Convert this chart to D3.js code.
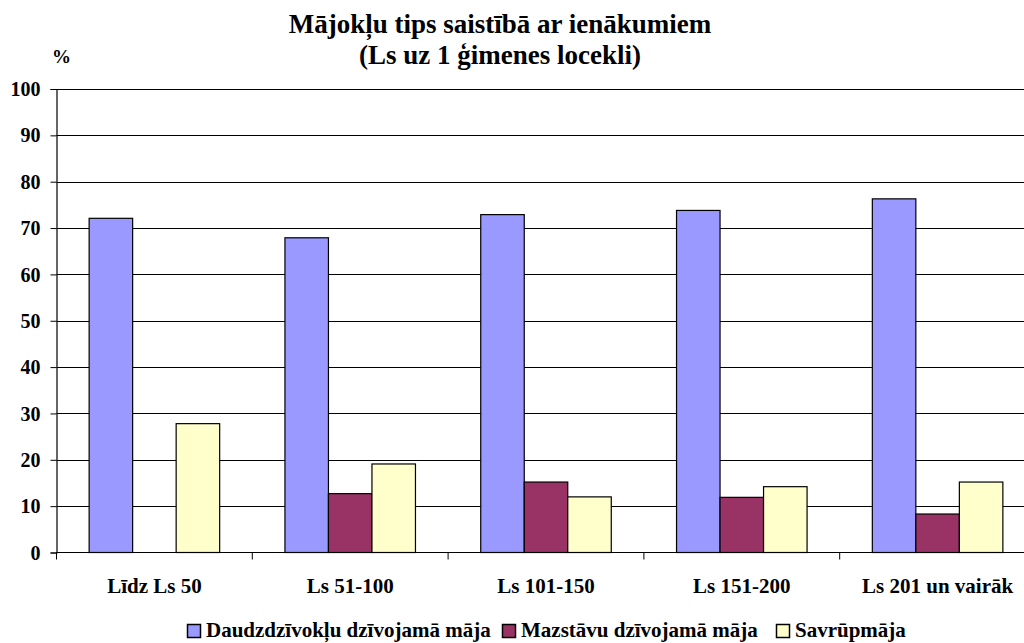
<!DOCTYPE html>
<html>
<head>
<meta charset="utf-8">
<script src="https://cdn.jsdelivr.net/npm/d3@7"></script>
<style>
html,body{margin:0;padding:0;background:#fff;overflow:hidden;}
svg{display:block;}
text{font-family:"Liberation Serif","Times New Roman",serif;font-weight:bold;fill:#000;}
</style>
</head>
<body>
<svg id="chart" width="1024" height="643"></svg>
<script>
const categories = ["Līdz Ls 50", "Ls 51-100", "Ls 101-150", "Ls 151-200", "Ls 201 un vairāk"];
const seriesNames = ["Daudzdzīvokļu dzīvojamā māja", "Mazstāvu dzīvojamā māja", "Savrūpmāja"];
const daudzdzivoklu = [72.1, 67.9, 72.9, 73.8, 76.3];
const mazstavu = [0, 12.7, 15.2, 11.9, 8.3];
const savrupmaja = [27.8, 19.1, 12.0, 14.2, 15.2];
const yTicks = [0, 10, 20, 30, 40, 50, 60, 70, 80, 90, 100];
const titleLines = ["Mājokļu tips saistībā ar ienākumiem", "(Ls uz 1 ģimenes locekli)"];
const colors = ["#9999FF", "#993366", "#FFFFCC"];

const series = [daudzdzivoklu, mazstavu, savrupmaja];
const svg = d3.select("#chart");

const pLeft = 56.5, pRight = 1035.5, pTop = 89, pBottom = 552.5;

const y = d3.scaleLinear().domain([0, 100]).range([pBottom, pTop]);
const x0 = d3.scaleBand().domain(categories).range([pLeft, pRight]).padding(0);
const bw = x0.bandwidth();
const barW = bw / 4.5;
const x1 = d3.scaleBand().domain(d3.range(series.length)).range([barW * 0.75, bw - barW * 0.75]).padding(0);

// gridlines
svg.append("g").selectAll("line").data(yTicks.filter(d => d > 0)).join("line")
  .attr("x1", pLeft).attr("x2", pRight)
  .attr("y1", d => Math.round(y(d)) + 0.5).attr("y2", d => Math.round(y(d)) + 0.5)
  .attr("stroke", "#000").attr("stroke-width", 1);

// bars
const groups = svg.append("g").selectAll("g").data(categories).join("g")
  .attr("transform", c => `translate(${x0(c)},0)`);
groups.selectAll("rect").data((c, i) => series.map((s, k) => ({k, v: s[i]})).filter(d => d.v > 0)).join("rect")
  .attr("x", d => x1(d.k))
  .attr("width", x1.bandwidth())
  .attr("y", d => y(d.v))
  .attr("height", d => y(0) - y(d.v))
  .attr("fill", d => colors[d.k])
  .attr("stroke", "#000").attr("stroke-width", 1.2);

// y axis
const yAxis = d3.axisLeft(y).tickValues(yTicks).tickSize(6).tickPadding(10).tickFormat(d3.format("d"));
const ya = svg.append("g").attr("transform", `translate(${pLeft},0)`).call(yAxis);
ya.attr("font-family", null).attr("font-size", null);
ya.select(".domain").attr("stroke", "#000").attr("stroke-width", 1.2);
ya.selectAll(".tick line").attr("stroke", "#000");
ya.selectAll(".tick text").attr("dy", "0.33em").attr("fill", "#000")
  .style("font-size", "20px").style("font-weight", "bold")
  .style("font-family", '"Liberation Serif", "Times New Roman", serif');

// x axis
const xa = svg.append("g").attr("transform", `translate(0,${pBottom})`);
xa.append("line").attr("x1", pLeft).attr("x2", pRight).attr("y1", 0).attr("y2", 0).attr("stroke", "#000").attr("stroke-width", 1.2);
xa.selectAll("line.tk").data(categories.concat(["_end"])).join("line").attr("class", "tk")
  .attr("x1", (c, i) => pLeft + i * bw).attr("x2", (c, i) => pLeft + i * bw)
  .attr("y1", 0).attr("y2", 7).attr("stroke", "#000");
xa.selectAll("text").data(categories).join("text")
  .attr("x", c => x0(c) + bw / 2).attr("y", 40)
  .attr("text-anchor", "middle").style("font-size", "21px").text(c => c);

// title
svg.append("g").selectAll("text").data(titleLines).join("text")
  .attr("x", 500).attr("y", (d, i) => 33 + i * 31)
  .attr("text-anchor", "middle").style("font-size", "27px").text(d => d);

// unit
svg.append("text").attr("x", 52).attr("y", 63).style("font-size", "19px").text("%");

// legend
const legendX = [187, 502, 776];
const lg = svg.append("g").selectAll("g").data(seriesNames).join("g")
  .attr("transform", (d, i) => `translate(${legendX[i]},624)`);
lg.append("rect").attr("x", 0.5).attr("y", 0.5).attr("width", 13).attr("height", 13)
  .attr("fill", (d, i) => colors[i]).attr("stroke", "#000").attr("stroke-width", 1.5);
lg.append("text").attr("x", 19).attr("y", 13).style("font-size", "21px").text(d => d);
</script>
</body>
</html>
